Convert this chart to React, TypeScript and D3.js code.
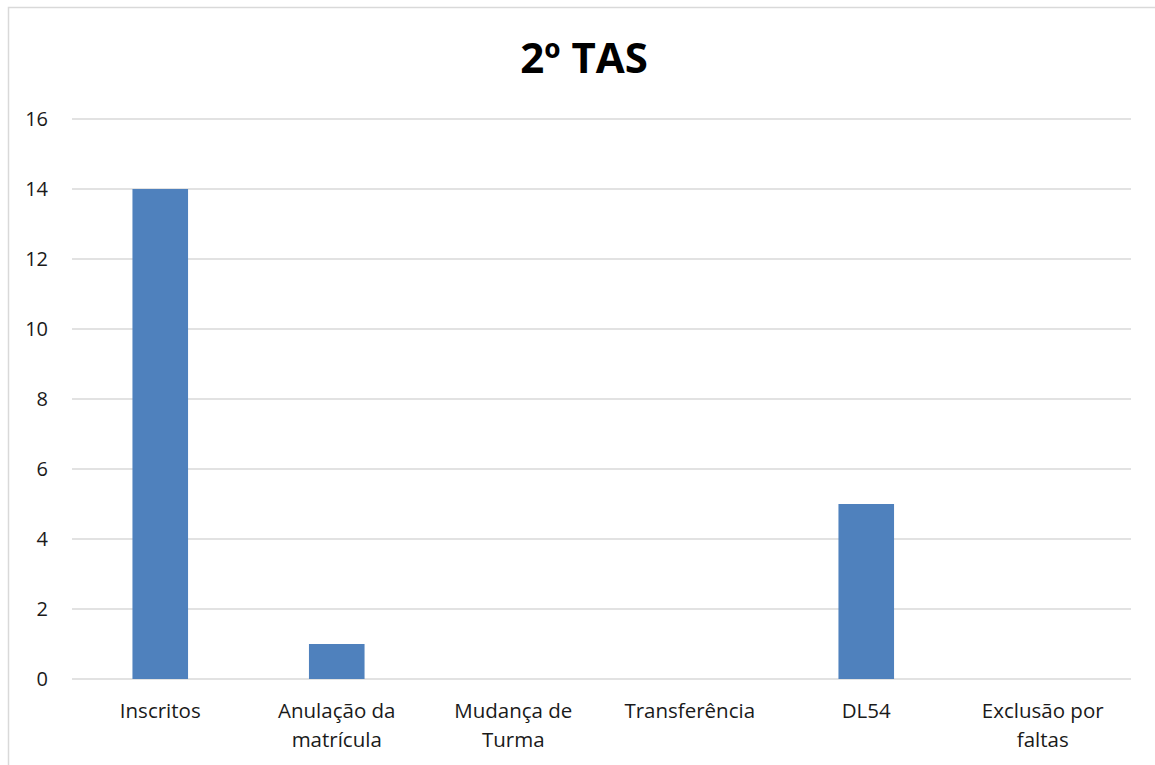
import { useEffect } from 'react'
import * as d3 from 'd3'

// Chart data
const categories = ['Inscritos', 'Anulação da matrícula', 'Mudança de Turma', 'Transferência', 'DL54', 'Exclusão por faltas']
const labelLines = [['Inscritos'], ['Anulação da', 'matrícula'], ['Mudança de', 'Turma'], ['Transferência'], ['DL54'], ['Exclusão por', 'faltas']]
const values = [14, 1, 0, 0, 5, 0]
const yTicks = [0, 2, 4, 6, 8, 10, 12, 14, 16]
const title = '2º TAS'

const WIDTH = 1155
const HEIGHT = 765
const FONT = '"Open Sans", "Noto Sans", sans-serif'

export default function App() {
  useEffect(() => {
    document.body.style.margin = '0'
  }, [])

  const margin = { top: 119, right: 24, bottom: 86, left: 72 }
  const innerWidth = WIDTH - margin.left - margin.right
  const innerHeight = HEIGHT - margin.top - margin.bottom

  const x = d3.scaleBand<string>()
    .domain(categories)
    .range([0, innerWidth])
    .paddingInner(0.685)
    .paddingOuter(0.3425)

  const y = d3.scaleLinear()
    .domain([0, 16])
    .range([innerHeight, 0])

  return (
    <svg width={WIDTH} height={HEIGHT} style={{ display: 'block', background: '#fff' }}>
      {/* chart frame (runs past the right and bottom edge) */}
      <rect x={8.5} y={7.5} width={1200} height={800} fill="none" stroke="#d9d9d9" strokeWidth={1.5} />

      <text x={584} y={73} textAnchor="middle" fontFamily={FONT} fontWeight="bold" fontSize={42} fill="#000">
        {title}
      </text>

      <g transform={`translate(${margin.left},${margin.top})`}>
        {yTicks.map(t => (
          <g key={t}>
            <line x1={0} x2={innerWidth} y1={y(t)} y2={y(t)} stroke="#d9d9d9" strokeWidth={1.5} />
            <text x={-24} y={y(t)} dy="0.36em" textAnchor="end" fontFamily={FONT} fontSize={20} fill="#1a1a1a">
              {t}
            </text>
          </g>
        ))}

        {categories.map((c, i) => (
          values[i] > 0 && (
            <rect
              key={c}
              x={x(c)}
              y={y(values[i])}
              width={x.bandwidth()}
              height={y(0) - y(values[i])}
              fill="#4f81bd"
            />
          )
        ))}

        {categories.map((c, i) => (
          <text
            key={c}
            x={(x(c) ?? 0) + x.bandwidth() / 2}
            y={innerHeight + 39}
            textAnchor="middle"
            fontFamily={FONT}
            fontSize={20.5}
            fill="#1a1a1a"
          >
            {labelLines[i].map((l, j) => (
              <tspan key={j} x={(x(c) ?? 0) + x.bandwidth() / 2} dy={j === 0 ? 0 : 29}>{l}</tspan>
            ))}
          </text>
        ))}
      </g>
    </svg>
  )
}
